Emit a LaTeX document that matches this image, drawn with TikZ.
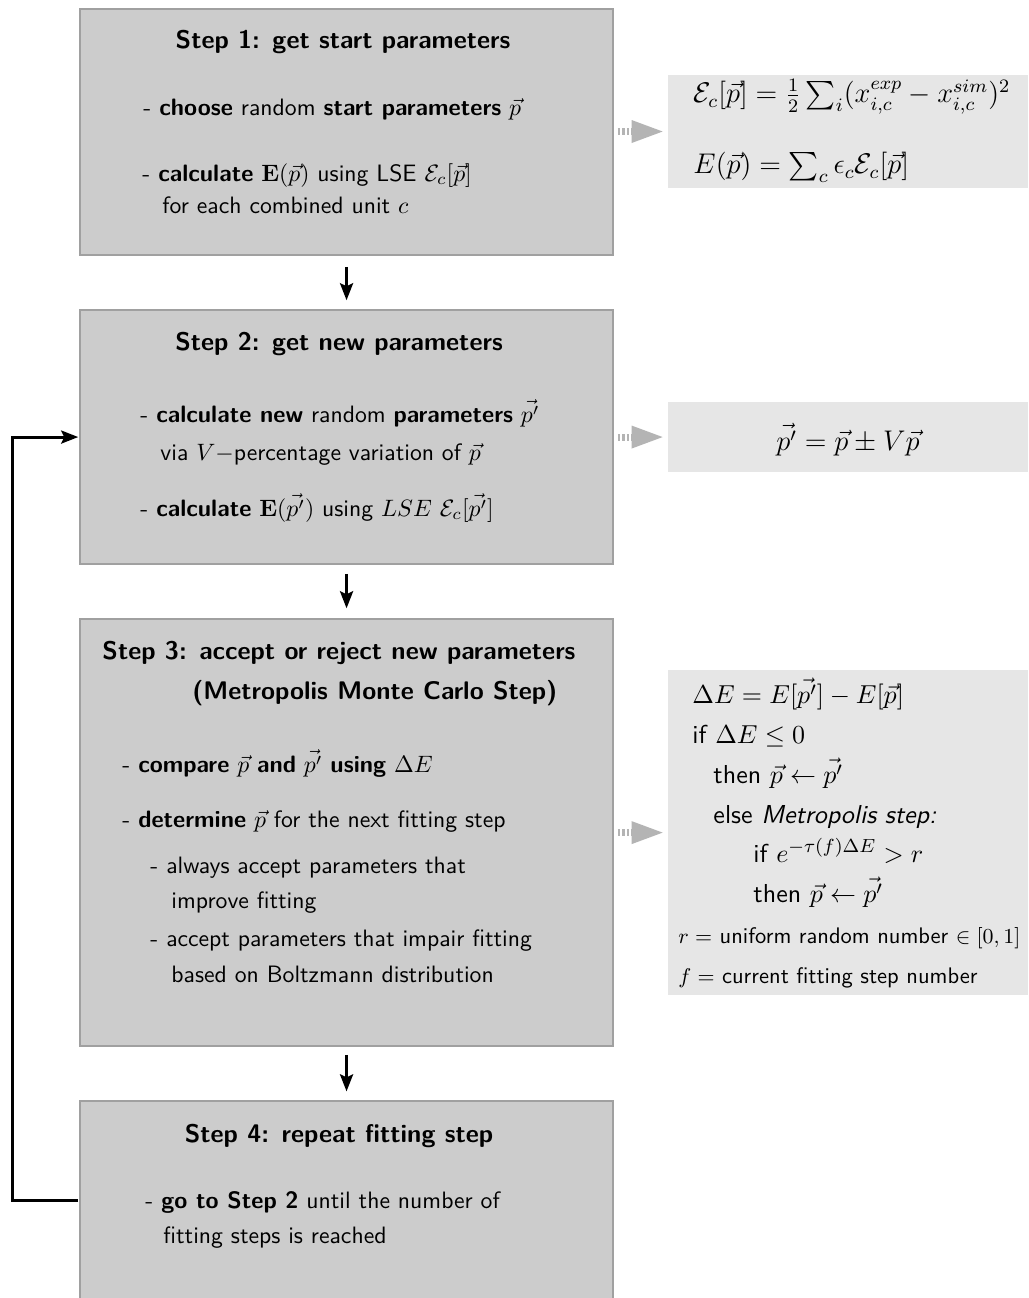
\documentclass[tikz,border=0pt]{standalone}
\usepackage{amsmath}
\usepackage{exscale}
\usetikzlibrary{arrows.meta,calc}
\definecolor{boxfill}{RGB}{204,204,204}
\definecolor{boxborder}{RGB}{160,160,160}
\definecolor{infofill}{RGB}{230,230,230}
\definecolor{tipgray}{RGB}{180,180,180}
\begin{document}
\begin{tikzpicture}[x=0.421941pt,y=-0.421941pt,scale=2.37,transform shape,
  stepbox/.style={draw=boxborder, fill=boxfill, line width=1.5pt, minimum width=224.89pt, inner sep=0pt},
  infobox/.style={fill=infofill, minimum width=151.9pt, inner sep=0pt},
  head/.style={font=\sffamily\bfseries\fontsize{10.75}{13}\selectfont, inner sep=0pt, anchor=base},
  headw/.style={head, anchor=base west},
  txt/.style={font=\sffamily\fontsize{10}{12}\selectfont, inner sep=0pt, anchor=base west},
  rtxt/.style={font=\sffamily\fontsize{10.95}{13}\selectfont, inner sep=0pt, anchor=base west},
  rmath/.style={font=\sffamily\fontsize{12}{14}\selectfont, inner sep=0pt, anchor=base west},
  rsmall/.style={font=\sffamily\fontsize{9.5}{11.5}\selectfont, inner sep=0pt, anchor=base west},
  flow/.style={line width=3pt, -{Stealth[length=17pt,width=13pt,inset=3pt]}},
  hint/.style={draw=tipgray, line width=7pt, dash pattern=on 2.5pt off 2pt, -{Triangle[length=31pt,width=23pt,fill=tipgray,line width=0pt]}, shorten >=5pt}
]
\clip (0,0) rectangle (1028,1298);
\fill[white] (0,0) rectangle (1028,1298);

% step boxes
\node[stepbox, minimum height=103.8pt] (b1) at (346.5,132) {};
\node[stepbox, minimum height=107.17pt] (b2) at (346.5,437) {};
\node[stepbox, minimum height=180.17pt] (b3) at (346.5,832.5) {};
\node[stepbox, minimum height=92.41pt] (b4) at (346.5,1210.5) {};

% info boxes
\node[infobox, minimum height=47.68pt] (r1) at (848,131.5) {};
\node[infobox, minimum height=29.54pt] (r2) at (848,437) {};
\node[infobox, minimum height=137.13pt] (r3) at (848,832.5) {};

% step 1
\node[head] (h1) at (343,49) {Step 1: get start parameters};
\node[txt] (t11) at (143,116) {- \textbf{choose} random \textbf{start parameters} $\vec{p}$};
\node[txt] (t12) at (142,181) {- \textbf{calculate} $\mathbf{E}(\vec{p})$ using LSE $\mathcal{E}_c[\vec{p}]$};
\node[txt] (t13) at (162,213) {for each combined unit $c$};

% step 2
\node[head] (h2) at (339,350) {Step 2: get new parameters};
\node[txt] (t21) at (140,422) {- \textbf{calculate new} random \textbf{parameters} $\vec{p'}$};
\node[txt] (t22) at (160,460) {via $V-$percentage variation of $\vec{p}$};
\node[txt] (t23) at (140,516) {- \textbf{calculate} $\mathbf{E}(\vec{p'})$ using $LSE$ $\mathcal{E}_c[\vec{p'}]$};

% step 3
\node[headw] (h31) at (102,659) {Step 3: accept or reject new parameters};
\node[headw] (h32) at (192,699) {(Metropolis Monte Carlo Step)};
\node[txt] (t31) at (122,772) {- \textbf{compare} $\vec{p}$ \textbf{and} $\vec{p'}$ \textbf{using} $\Delta E$};
\node[txt] (t32) at (122,827) {- \textbf{determine} $\vec{p}$ for the next fitting step};
\node[txt] (t33) at (150,873) {- always accept parameters that};
\node[txt] (t34) at (171,908) {improve fitting};
\node[txt] (t35) at (150,946) {- accept parameters that impair fitting};
\node[txt] (t36) at (171,982) {based on Boltzmann distribution};

% step 4
\node[head] (h4) at (339,1142) {Step 4: repeat fitting step};
\node[txt] (t41) at (145,1208) {- \textbf{go to Step 2} until the number of};
\node[txt] (t42) at (163,1243) {fitting steps is reached};

% info 1
\node[rmath] (e11) at (693,103) {$\mathcal{E}_c[\vec{p}] = \frac{1}{2}\sum_i (x_{i,c}^{exp} - x_{i,c}^{sim})^2$};
\node[rmath] (e12) at (693,174) {$E(\vec{p}) = \sum_c \epsilon_c \mathcal{E}_c[\vec{p}]$};

% info 2
\node[rmath, anchor=base] (e21) at (848,450) {$\vec{p'} = \vec{p} \pm V\vec{p}$};

% info 3
\node[rtxt] (e31) at (692,703) {$\Delta E = E[\vec{p'}] - E[\vec{p}]$};
\node[rtxt] (e32) at (692,743) {if $\Delta E \leq 0$};
\node[rtxt] (e33) at (713,783) {then $\vec{p} \leftarrow \vec{p'}$};
\node[rtxt] (e34) at (713,823) {else \textsl{Metropolis step:}};
\node[rtxt] (e35) at (753,862) {if $e^{-\tau(f)\Delta E} > r$};
\node[rtxt] (e36) at (753,902) {then $\vec{p} \leftarrow \vec{p'}$};
\node[rsmall] (e37) at (678,943) {$r =$ uniform random number $\in [0,1]$};
\node[rsmall] (e38) at (678,983) {$f =$ current fitting step number};

% flow arrows
\draw[flow] ($(b1.south)+(0,10)$) -- ($(b2.north)+(0,-8)$);
\draw[flow] ($(b2.south)+(0,8)$) -- ($(b3.north)+(0,-9)$);
\draw[flow] ($(b3.south)+(0,7)$) -- ($(b4.north)+(0,-8)$);
\coordinate (lp) at (12,1200);
\draw[flow] (lp -| b4.west) -- (lp) |- (b2.west);

% hint arrows
\draw[hint] ($(b1.east |- r1.west)+(3,0)$) -- (r1.west);
\draw[hint] ($(b2.east |- r2.west)+(3,0)$) -- (r2.west);
\draw[hint] ($(b3.east |- r3.west)+(3,0)$) -- (r3.west);
\end{tikzpicture}
\end{document}
